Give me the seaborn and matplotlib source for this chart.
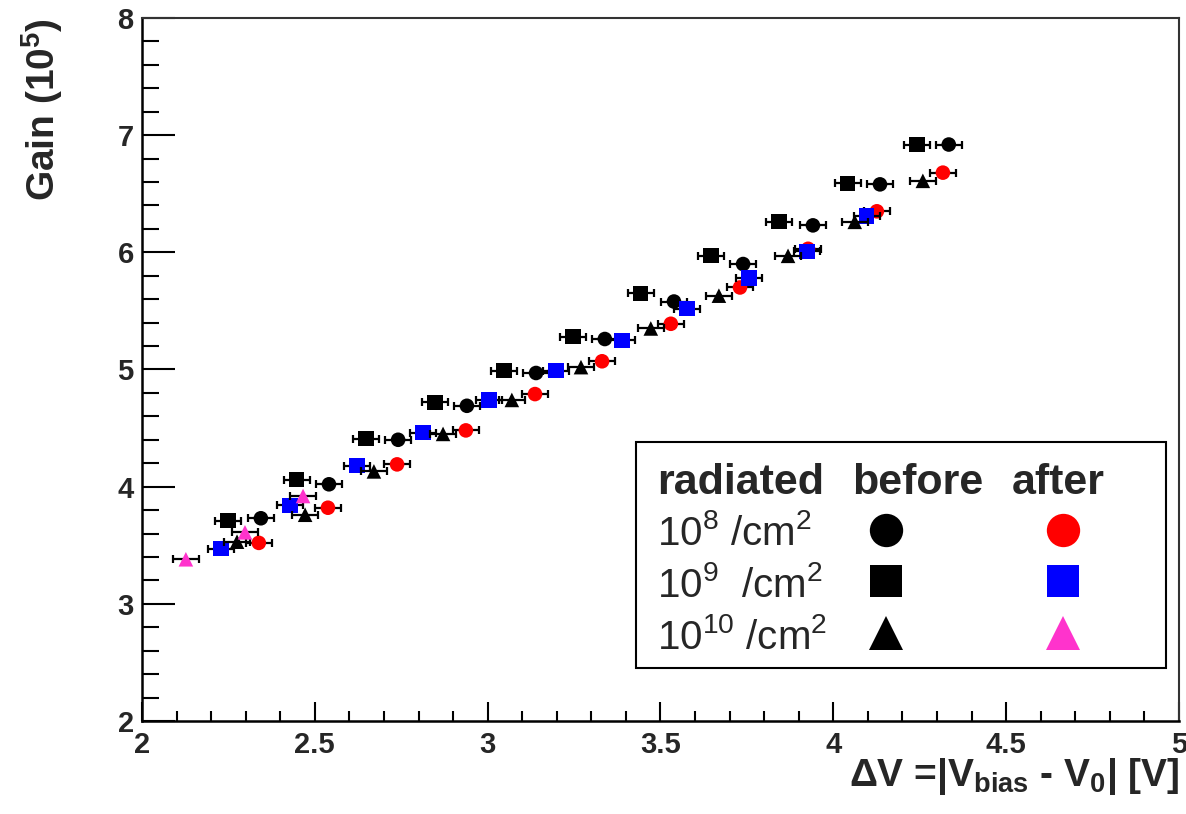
import numpy as np
import pandas as pd
import matplotlib
matplotlib.use('Agg')
import matplotlib.pyplot as plt
from matplotlib.ticker import MultipleLocator, FormatStrFormatter
import seaborn as sns

sns.set_style('white')
plt.rcParams['font.family'] = ['Liberation Sans', 'DejaVu Sans']
plt.rcParams['mathtext.default'] = 'regular'

# ---- data (gain in units of 1e5) ----
x_before_1e8 = [2.344, 2.541, 2.741, 2.940, 3.140, 3.339, 3.539, 3.739, 3.941, 4.135, 4.334]
y_before_1e8 = [3.73, 4.02, 4.40, 4.69, 4.97, 5.26, 5.58, 5.90, 6.23, 6.58, 6.92]

x_before_1e9 = [2.249, 2.448, 2.648, 2.848, 3.047, 3.247, 3.443, 3.646, 3.843, 4.042, 4.242]
y_before_1e9 = [3.71, 4.06, 4.41, 4.72, 4.99, 5.28, 5.65, 5.97, 6.26, 6.59, 6.92]

x_before_1e10 = [2.275, 2.472, 2.671, 2.871, 3.070, 3.270, 3.472, 3.669, 3.869, 4.062, 4.259]
y_before_1e10 = [3.53, 3.76, 4.13, 4.45, 4.74, 5.02, 5.35, 5.63, 5.97, 6.26, 6.61]

x_after_1e8 = [2.338, 2.538, 2.738, 2.937, 3.137, 3.331, 3.530, 3.730, 3.927, 4.126, 4.317]
y_after_1e8 = [3.52, 3.82, 4.19, 4.48, 4.79, 5.07, 5.39, 5.70, 6.03, 6.35, 6.68]

x_after_1e9 = [2.229, 2.428, 2.622, 2.813, 3.004, 3.198, 3.389, 3.577, 3.756, 3.924, 4.097]
y_after_1e9 = [3.47, 3.84, 4.18, 4.46, 4.74, 4.99, 5.25, 5.52, 5.78, 6.01, 6.31]

x_after_1e10 = [2.127, 2.298, 2.466]
y_after_1e10 = [3.38, 3.61, 3.92]

x_err = 0.038

fluence_labels = ['10$^8$ /cm$^2$', '10$^9$  /cm$^2$', '10$^{10}$ /cm$^2$']

# name, x, y, marker, colour, marker size (pt)
series = [
    ('before 1e8', x_before_1e8, y_before_1e8, 'o', 'black', 10.5),
    ('before 1e9', x_before_1e9, y_before_1e9, 's', 'black', 11),
    ('after 1e8', x_after_1e8, y_after_1e8, 'o', '#ff0000', 10.5),
    ('after 1e9', x_after_1e9, y_after_1e9, 's', '#0000ff', 11),
    ('before 1e10', x_before_1e10, y_before_1e10, '^', 'black', 10.5),
    ('after 1e10', x_after_1e10, y_after_1e10, '^', '#ff33cc', 10.5),
]

frames = []
for name, xs, ys, m, c, ms in series:
    frames.append(pd.DataFrame({'dV': xs, 'gain': ys, 'series': name}))
df = pd.concat(frames, ignore_index=True)

fig = plt.figure(figsize=(11.86, 8.14), dpi=100)
ax = fig.add_axes([0.1197, 0.1143, 0.8744, 0.8636])

for k, (name, xs, ys, m, c, ms) in enumerate(series):
    sub = df[df['series'] == name]
    ax.errorbar(sub['dV'], sub['gain'], xerr=x_err, fmt='none', ecolor='black',
                elinewidth=1.6, capsize=3.2, capthick=1.6, zorder=2 + k)
    sns.scatterplot(data=sub, x='dV', y='gain', marker=m, color=c, s=ms ** 2,
                    edgecolor='none', linewidth=0, ax=ax, zorder=2.5 + k, legend=False)

ax.set_xlim(2, 5)
ax.set_ylim(2, 8)
ax.xaxis.set_major_locator(MultipleLocator(0.5))
ax.xaxis.set_minor_locator(MultipleLocator(0.1))
ax.yaxis.set_major_locator(MultipleLocator(1))
ax.yaxis.set_minor_locator(MultipleLocator(0.2))
ax.xaxis.set_major_formatter(FormatStrFormatter('%g'))
ax.yaxis.set_major_formatter(FormatStrFormatter('%g'))

ax.tick_params(axis='both', which='both', direction='in', color='black', width=1.5,
               bottom=True, left=True, top=False, right=False, labelsize=21)
ax.tick_params(axis='x', which='major', length=14, pad=7)
ax.tick_params(axis='x', which='minor', length=7)
ax.tick_params(axis='y', which='major', length=24, pad=6)
ax.tick_params(axis='y', which='minor', length=12)
for lab in ax.get_xticklabels() + ax.get_yticklabels():
    lab.set_fontweight('bold')

for side in ['left', 'bottom']:
    ax.spines[side].set_linewidth(1.8)
    ax.spines[side].set_color('black')
for side in ['top', 'right']:
    ax.spines[side].set_linewidth(1.5)
    ax.spines[side].set_color('#333333')

ax.set_xlabel('ΔV =|V$_{bias}$ - V$_0$| [V]', fontsize=28, fontweight='bold', loc='right')
ax.xaxis.set_label_coords(1.0, -0.05)
ax.set_ylabel('Gain (10$^5$)', fontsize=28, fontweight='bold', loc='top')
ax.yaxis.set_label_coords(-0.074, 1.0)

# ---- legend box laid out as a small table ----
ax.add_patch(plt.Rectangle((0.4764, 0.0754), 0.5111, 0.3215, transform=ax.transAxes,
                           facecolor='white', edgecolor='black', linewidth=1.5, zorder=20))
head_y = 0.3229
for txt, hx in [('radiated', 0.4966), ('before', 0.6847), ('after', 0.839)]:
    ax.text(hx, head_y, txt, transform=ax.transAxes, fontsize=31, fontweight='bold',
            va='baseline', ha='left', zorder=21)

row_base = [0.2504, 0.1764, 0.1024]
row_mid = [0.2717, 0.1991, 0.1252]
col_x = {'before': 0.7175, 'after': 0.8881}
legend_keys = {
    ('before', 0): ('o', 'black', 24), ('after', 0): ('o', '#ff0000', 24),
    ('before', 1): ('s', 'black', 22.5), ('after', 1): ('s', '#0000ff', 22.5),
    ('before', 2): ('^', 'black', 25), ('after', 2): ('^', '#ff33cc', 25),
}
for r, lab in enumerate(fluence_labels):
    ax.text(0.4966, row_base[r], lab, transform=ax.transAxes, fontsize=29,
            va='baseline', ha='left', zorder=21)
for (col, r), (m, c, ms) in legend_keys.items():
    ax.plot([col_x[col]], [row_mid[r]], marker=m, color=c, markersize=ms,
            markeredgewidth=0, linestyle='none', transform=ax.transAxes, zorder=21,
            clip_on=False)

fig.savefig('out.png', dpi=100)
